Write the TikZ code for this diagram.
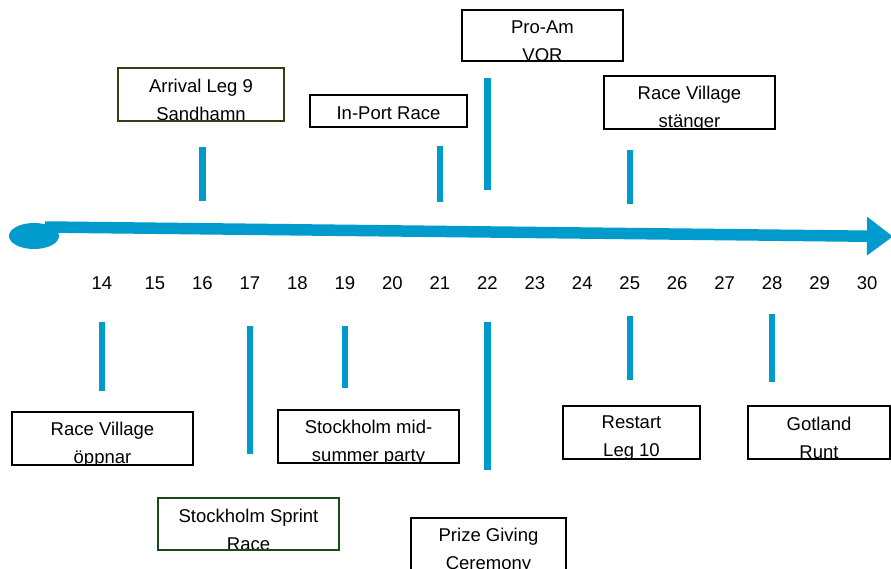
\documentclass[tikz,border=0pt]{standalone}
\usepackage{fontspec}
\setmainfont{Liberation Sans}
\usetikzlibrary{shapes.geometric, arrows.meta, calc, positioning}
\definecolor{tlblue}{RGB}{0,155,205}
\definecolor{olivebox}{RGB}{60,60,20}
\definecolor{greenbox}{RGB}{25,75,25}
\newcommand{\evfont}{\fontsize{18.5}{28}\selectfont}
\tikzstyle{day} = [inner sep=0pt, font=\evfont]
\tikzstyle{bar} = [line width=6.5pt, draw=tlblue]
\tikzstyle{axis} = [line width=11.5pt, draw=tlblue, -{Triangle[length=26pt,width=37pt]}]
\tikzset{evbox/.style 2 args={draw=black, line width=1.5pt, inner sep=0pt,
	path picture={\node[anchor=north, align=center, font=\evfont, inner sep=0pt] at ([yshift=#2]path picture bounding box.north) {#1};}}}

\begin{document}
\begin{tikzpicture}[x=1pt, y=-1pt]
	\useasboundingbox (0,0) rectangle (891,568);
	% time axis
	\node (tlstart) [ellipse, fill=tlblue, minimum width=50pt, minimum height=26pt, inner sep=0pt] at (34,236) {};
	\coordinate (tlend) at (893,236.5);
	\draw [axis] ([shift={(11,-9)}]tlstart.center) -- (tlend);
	% days
	\node (d14) [day] at (102,283) {14};
	\node (d15) [day, right = 32pt of d14] {15};
	\node (d16) [day, right = 26.5pt of d15] {16};
	\node (d17) [day, right = 26.5pt of d16] {17};
	\node (d18) [day, right = 26.5pt of d17] {18};
	\node (d19) [day, right = 26.5pt of d18] {19};
	\node (d20) [day, right = 26.5pt of d19] {20};
	\node (d21) [day, right = 26.5pt of d20] {21};
	\node (d22) [day, right = 26.5pt of d21] {22};
	\node (d23) [day, right = 26.5pt of d22] {23};
	\node (d24) [day, right = 26.5pt of d23] {24};
	\node (d25) [day, right = 26.5pt of d24] {25};
	\node (d26) [day, right = 26.5pt of d25] {26};
	\node (d27) [day, right = 26.5pt of d26] {27};
	\node (d28) [day, right = 26.5pt of d27] {28};
	\node (d29) [day, right = 26.5pt of d28] {29};
	\node (d30) [day, right = 26.5pt of d29] {30};
	% events above
	\node (arrival) [evbox={Arrival Leg 9\\Sandhamn}{-5pt}, draw=olivebox, minimum width=166pt, minimum height=53pt] at (201,94.5) {};
	\node (inport) [evbox={In-Port Race}{-1pt}, minimum width=157pt, minimum height=32pt] at (388.5,111) {};
	\node (proam) [evbox={Pro-Am\\VOR}{-5pt}, minimum width=161pt, minimum height=51pt] at (542.5,35.5) {};
	\node (closing) [evbox={Race Village\\stänger}{-5pt}, minimum width=171pt, minimum height=53pt] at (689.5,102.5) {};
	% events below
	\node (opening) [evbox={Race Village\\öppnar}{-5pt}, minimum width=181pt, minimum height=53pt] at (102.5,438.5) {};
	\node (midsummer) [evbox={Stockholm mid-\\summer party}{-5pt}, minimum width=181pt, minimum height=53pt] at (368.5,436.5) {};
	\node (sprint) [evbox={Stockholm Sprint\\Race}{-5pt}, draw=greenbox, minimum width=181pt, minimum height=52pt] at (248.5,524) {};
	\node (prize) [evbox={Prize Giving\\Ceremony}{-5pt}, minimum width=155pt, minimum height=53pt] at (488.5,544.5) {};
	\node (restart) [evbox={Restart\\Leg 10}{-5pt}, minimum width=137pt, minimum height=53pt] at (631.5,432.5) {};
	\node (gotland) [evbox={Gotland\\Runt}{-5pt}, minimum width=142pt, minimum height=53pt] at (819,432.5) {};
	% markers
	\draw [bar] (d16 |- 0,147) -- (d16 |- 0,201);
	\draw [bar] (d21 |- 0,146) -- (d21 |- 0,202);
	\draw [bar] (d22 |- 0,78) -- (d22 |- 0,190);
	\draw [bar] (d25 |- 0,150) -- (d25 |- 0,204);
	\draw [bar] (d14 |- 0,322) -- (d14 |- 0,391);
	\draw [bar] (d17 |- 0,326) -- (d17 |- 0,454);
	\draw [bar] (d19 |- 0,326) -- (d19 |- 0,388);
	\draw [bar] (d22 |- 0,322) -- (d22 |- 0,470);
	\draw [bar] (d25 |- 0,316) -- (d25 |- 0,380);
	\draw [bar] (d28 |- 0,314) -- (d28 |- 0,382);
\end{tikzpicture}
\end{document}
